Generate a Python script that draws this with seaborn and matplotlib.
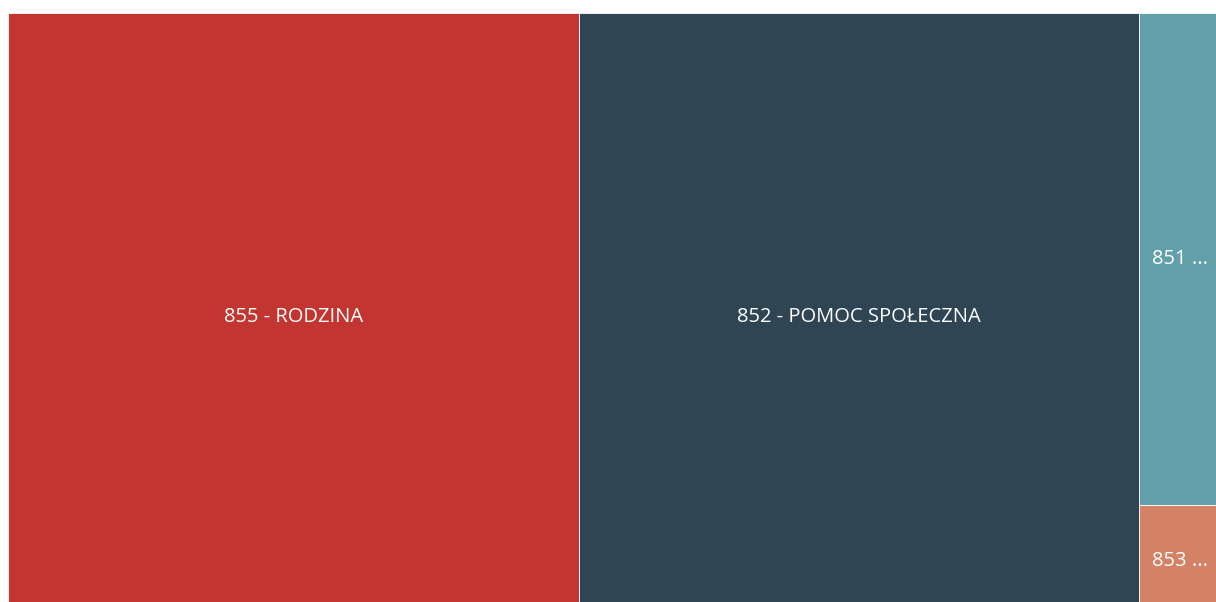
import matplotlib
matplotlib.use("Agg")
import matplotlib.pyplot as plt
from matplotlib.patches import Rectangle
import seaborn as sns

# Budget sections (share of expenditure)
codes = ["855", "852", "851", "853"]
names = ["RODZINA", "POMOC SPOŁECZNA", "OCHRONA ZDROWIA", "POZOSTAŁE ZADANIA"]
values = [57.2, 56.1, 6.6, 1.5]
colors = ["#c23531", "#2f4554", "#61a0a8", "#d48265"]

sns.set_theme(style="white")
plt.rcParams["font.family"] = ["Open Sans", "DejaVu Sans"]

fig = plt.figure(figsize=(12.16, 6.02), dpi=100)
fig.patch.set_facecolor("white")
# plotting area runs slightly past the right and bottom edges of the canvas
ax = fig.add_axes([8 / 1216, -15 / 602, 1212 / 1216, 604 / 602])
ax.set_axis_off()

total = sum(values)
ax.set_xlim(0, total)
ax.set_ylim(0, 1)

label_size = 14.5

# two large sections take full-height columns, the rest share the last column
x = 0.0
for i in range(2):
    w = values[i]
    ax.add_patch(Rectangle((x, 0), w, 1, facecolor=colors[i], edgecolor="white", linewidth=0.6))
    ax.text(x + w / 2, 0.497, f"{codes[i]} - {names[i]}", ha="center", va="center",
            color="white", fontsize=label_size)
    x += w

rest = values[2:]
col_w = sum(rest)
y = 1.0
for j, v in enumerate(rest):
    h = v / col_w
    y -= h
    k = j + 2
    ax.add_patch(Rectangle((x, y), col_w, h, facecolor=colors[k], edgecolor="white", linewidth=0.6))
    ax.text(x + col_w / 2, y + h / 2, f"{codes[k]} ...", ha="center", va="center",
            color="white", fontsize=label_size)

fig.savefig("out.png", dpi=100)
